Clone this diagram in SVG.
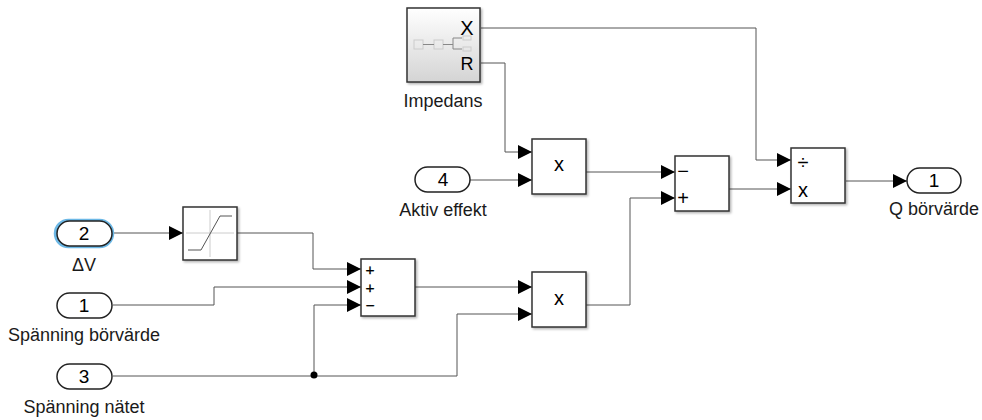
<svg xmlns="http://www.w3.org/2000/svg" width="982" height="420" viewBox="0 0 982 420">
<defs>
<marker id="arrow" markerUnits="userSpaceOnUse" markerWidth="15" markerHeight="15" refX="14" refY="7" orient="auto"><path d="M0,0L14,7L0,14Z" fill="#000"/></marker>
<linearGradient id="sub" x1="0" y1="0" x2="0" y2="1"><stop offset="0" stop-color="#fff"/><stop offset="1" stop-color="#d4d4d4"/></linearGradient>
<filter id="sh" x="-10%" y="-10%" width="125%" height="125%"><feDropShadow dx="1.5" dy="1.5" stdDeviation="1.2" flood-color="#000" flood-opacity="0.3"/></filter>
</defs>
<style>
text{font-family:"Liberation Sans",Arial,sans-serif;fill:#1a1a1a}
.lbl{font-size:18px;text-anchor:middle}
.num{font-size:19px;text-anchor:middle;fill:#000}
.sym{font-size:20px;text-anchor:middle;fill:#000}
.sm{font-size:15.500px;text-anchor:middle;fill:#000;stroke:#000;stroke-width:0.3}
.blk{fill:#fff;stroke:#333;stroke-width:1.5;filter:url(#sh)}
.port{fill:#fff;stroke:#222;stroke-width:1.5}
.w{fill:none;stroke:#555;stroke-width:1;marker-end:url(#arrow)}
.n{fill:none;stroke:#555;stroke-width:1}
.ic{fill:none;stroke:#ccc;stroke-width:1}
.id{fill:none;stroke:#888;stroke-width:1}
</style>
<g id="connectors">
<path class="w" d="M481,28H756V160H791"/>
<path class="w" d="M481,63H505V152H532"/>
<path class="w" d="M470,180H532"/>
<path class="w" d="M586,172H675"/>
<path class="w" d="M630,198H675"/>
<path class="n" d="M586,305H630V198"/>
<path class="w" d="M729,189H791"/>
<path class="w" d="M846,181H907"/>
<path class="w" d="M113,233H183"/>
<path class="w" d="M237,233H313V269H361"/>
<path class="w" d="M113,305H214V287H361"/>
<path class="w" d="M113,376H314V305H361"/>
<path class="w" d="M314,376H457V314H532"/>
<path class="w" d="M415,287H532"/>
<circle cx="314" cy="375" r="3.5" fill="#000"/>
</g>
<g id="impedans">
<rect class="blk" x="407" y="8" width="73" height="74" style="fill:url(#sub)"/>
<rect class="ic" x="414" y="40" width="9" height="9"/><rect class="ic" x="434" y="40" width="9" height="9"/>
<path class="id" d="M423,44.500H434M443,44.500H453M453,38H462M453,38V49H462"/>
<rect class="ic" x="463" y="36" width="8" height="4"/><rect class="ic" x="463" y="47" width="8" height="4"/>
<text x="467" y="35" class="sym">X</text>
<text x="467" y="70" class="sym" style="font-size:18px">R</text>
<text x="443" y="107" class="lbl">Impedans</text>
</g>
<g id="aktiv-effekt">
<rect class="port" x="415" y="167" width="55" height="25" rx="12.5"/>
<text x="443" y="186" class="num">4</text>
<text x="443" y="216" class="lbl">Aktiv effekt</text>
</g>
<g id="product-1"><rect class="blk" x="532" y="139" width="54" height="55"/><text x="559" y="171" class="sym">x</text></g>
<g id="sum-1"><rect class="blk" x="675" y="156" width="54" height="55"/>
<text x="683" y="178" class="sym">−</text><text x="683" y="205" class="sym">+</text></g>
<g id="divide"><rect class="blk" x="791" y="148" width="54" height="55"/>
<text x="803" y="169" class="sym">÷</text><text x="803" y="197" class="sym">x</text></g>
<g id="q-borvarde">
<rect class="port" x="907" y="168" width="54" height="25" rx="12.5"/>
<text x="934" y="187" class="num">1</text>
<text x="934" y="215" class="lbl">Q börvärde</text>
</g>
<g id="delta-v">
<rect x="56" y="221" width="56" height="25" rx="12.5" fill="none" stroke="#6cb8e6" stroke-width="4.500"/>
<rect class="port" x="57" y="221" width="55" height="25" rx="12.5"/>
<text x="84" y="240" class="num">2</text>
<text x="84" y="271" class="lbl">ΔV</text>
</g>
<g id="saturation"><rect class="blk" x="183" y="207" width="54" height="53"/>
<path class="ic" d="M210,210V257M186,233H234"/>
<path fill="none" stroke="#555" stroke-width="1" d="M188,250H201L220,216H232"/></g>
<g id="spanning-borvarde">
<rect class="port" x="57" y="293" width="55" height="25" rx="12.5"/>
<text x="84" y="312" class="num">1</text>
<text x="84" y="341" class="lbl">Spänning börvärde</text>
</g>
<g id="spanning-natet">
<rect class="port" x="57" y="364" width="55" height="25" rx="12.5"/>
<text x="84" y="383" class="num">3</text>
<text x="84" y="413" class="lbl">Spänning nätet</text>
</g>
<g id="sum-2"><rect class="blk" x="361" y="259" width="54" height="57"/>
<text x="370" y="275" class="sm">+</text><text x="370" y="293" class="sm">+</text><text x="370" y="311" class="sm">−</text></g>
<g id="product-2"><rect class="blk" x="532" y="272" width="54" height="55"/><text x="559" y="305" class="sym">x</text></g>
</svg>
